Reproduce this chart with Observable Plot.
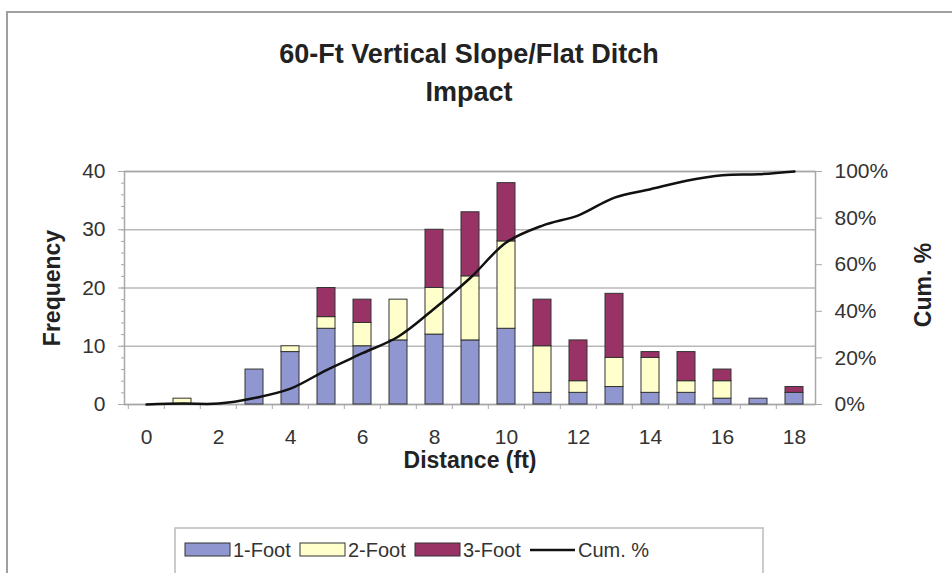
<!DOCTYPE html>
<html>
<head>
<meta charset="utf-8">
<script src="https://cdn.jsdelivr.net/npm/d3@7"></script>
<script src="https://cdn.jsdelivr.net/npm/@observablehq/plot@0.6"></script>
<style>
  html, body { margin: 0; padding: 0; background: #fff; }
  #chart { width: 952px; height: 573px; overflow: hidden; }
</style>
</head>
<body>
<div id="chart"></div>
<script>
// ---- Data ----
const distance = [0, 1, 2, 3, 4, 5, 6, 7, 8, 9, 10, 11, 12, 13, 14, 15, 16, 17, 18];
const oneFoot   = [0, 0, 0, 6, 9, 13, 10, 11, 12, 11, 13, 2, 2, 3, 2, 2, 1, 1, 2];
const twoFoot   = [0, 1, 0, 0, 1, 2, 4, 7, 8, 11, 15, 8, 2, 5, 6, 2, 3, 0, 0];
const threeFoot = [0, 0, 0, 0, 0, 5, 4, 0, 10, 11, 10, 8, 7, 11, 1, 5, 2, 0, 1];
const cumPct    = [0, 0.4, 0.4, 2.8, 6.8, 14.8, 22, 29.2, 41.2, 54.4, 69.6, 76.8, 81.2, 88.8, 92.4, 96, 98.4, 98.8, 100];
const seriesNames = ["1-Foot", "2-Foot", "3-Foot"];
const seriesColors = ["#9097d0", "#ffffcc", "#993366"];
const freqTicks = [0, 10, 20, 30, 40];
const freqMinorTicks = [0, 2, 4, 6, 8, 10, 12, 14, 16, 18, 20, 22, 24, 26, 28, 30, 32, 34, 36, 38, 40];
const pctTicks = [0, 20, 40, 60, 80, 100];
const xLabelTicks = [0, 2, 4, 6, 8, 10, 12, 14, 16, 18];

const seriesValues = [oneFoot, twoFoot, threeFoot];
const bars = [];
distance.forEach((d, i) => {
  seriesValues.forEach((vals, s) => {
    if (vals[i] > 0) bars.push({ d, series: seriesNames[s], v: vals[i] });
  });
});
const cum = distance.map((d, i) => ({ d, c: cumPct[i] }));
const pctToFreq = p => p * 40 / 100;

const font = "'Liberation Sans', Arial, sans-serif";

const chart = Plot.plot({
  width: 952,
  height: 573,
  marginLeft: 124,
  marginRight: 137,
  marginTop: 171,
  marginBottom: 169,
  style: { fontFamily: font, fontSize: "21px", color: "#333", background: "#fff" },
  x: { type: "band", domain: distance, paddingInner: 0.5, paddingOuter: 0.25 },
  y: { domain: [0, 40] },
  color: { domain: seriesNames, range: seriesColors },
  marks: [
    Plot.gridY(freqTicks, { stroke: "#b8b8b8", strokeOpacity: 1, strokeWidth: 1.5 }),
    Plot.frame({ stroke: "#a8a8a8", strokeWidth: 1.5 }),
    Plot.axisY(freqMinorTicks, { anchor: "left", tickSize: 3, text: null, label: null, stroke: "#a8a8a8" }),
    Plot.axisY(freqTicks, { anchor: "left", tickSize: 6, tickPadding: 13, label: null, stroke: "#a8a8a8", fill: "#333", fontSize: 21 }),
    Plot.axisY(pctTicks.map(pctToFreq), { anchor: "right", tickSize: 6, tickPadding: 13, label: null, stroke: "#a8a8a8", fill: "#333", fontSize: 21, tickFormat: d => Math.round(d * 100 / 40) + "%" }),
    Plot.axisX({ tickSize: 5, text: null, label: null, dx: -18.2, stroke: "#a8a8a8" }),
    Plot.axisX(xLabelTicks, { tickSize: 0, tickPadding: 25, label: null, fill: "#333", fontSize: 21 }),
    Plot.barY(bars, Plot.stackY({ x: "d", y: "v", fill: "series", stroke: "#333", strokeWidth: 1 })),
    Plot.line(cum, { x: "d", y: d => pctToFreq(d.c), curve: "catmull-rom", stroke: "#111", strokeWidth: 2.5 })
  ]
});

document.getElementById("chart").appendChild(chart);

// ---- Titles, axis labels, legend and frame ----
const svg = d3.select(chart);
svg.append("path").attr("d", "M7,573 V12 H952").attr("fill", "none").attr("stroke", "#a0a0a0").attr("stroke-width", 2);

const g = svg.append("g").attr("font-family", font).attr("fill", "#222").attr("font-weight", "bold");
g.append("text").attr("x", 469).attr("y", 63).attr("text-anchor", "middle")
  .attr("font-size", 27).text("60-Ft Vertical Slope/Flat Ditch");
g.append("text").attr("x", 469).attr("y", 101).attr("text-anchor", "middle")
  .attr("font-size", 27).text("Impact");
g.append("text").attr("x", 470).attr("y", 468).attr("text-anchor", "middle")
  .attr("font-size", 23).text("Distance (ft)");
g.append("text").attr("transform", "translate(60,288) rotate(-90)").attr("text-anchor", "middle")
  .attr("font-size", 23).text("Frequency");
g.append("text").attr("transform", "translate(931,285) rotate(-90)").attr("text-anchor", "middle")
  .attr("font-size", 23).text("Cum. %");

// legend
const lg = svg.append("g").attr("font-family", font);
lg.append("rect").attr("x", 175).attr("y", 528).attr("width", 588).attr("height", 50)
  .attr("fill", "#fff").attr("stroke", "#bbb").attr("stroke-width", 1.5);
const items = seriesNames.map((n, i) => ({ name: n, color: seriesColors[i], type: "bar" }))
  .concat([{ name: "Cum. %", type: "line" }]);
const itemX = [185, 300, 415, 530];
items.forEach((it, i) => {
  const x0 = itemX[i];
  if (it.type === "bar") {
    lg.append("rect").attr("x", x0).attr("y", 543).attr("width", 45).attr("height", 13)
      .attr("fill", it.color).attr("stroke", "#333").attr("stroke-width", 1);
  } else {
    lg.append("line").attr("x1", x0).attr("x2", x0 + 45).attr("y1", 550).attr("y2", 550)
      .attr("stroke", "#111").attr("stroke-width", 2.5);
  }
  lg.append("text").attr("x", x0 + 48).attr("y", 557).attr("text-anchor", "start")
    .attr("font-size", 20).attr("fill", "#333").text(it.name);
});
</script>
</body>
</html>
